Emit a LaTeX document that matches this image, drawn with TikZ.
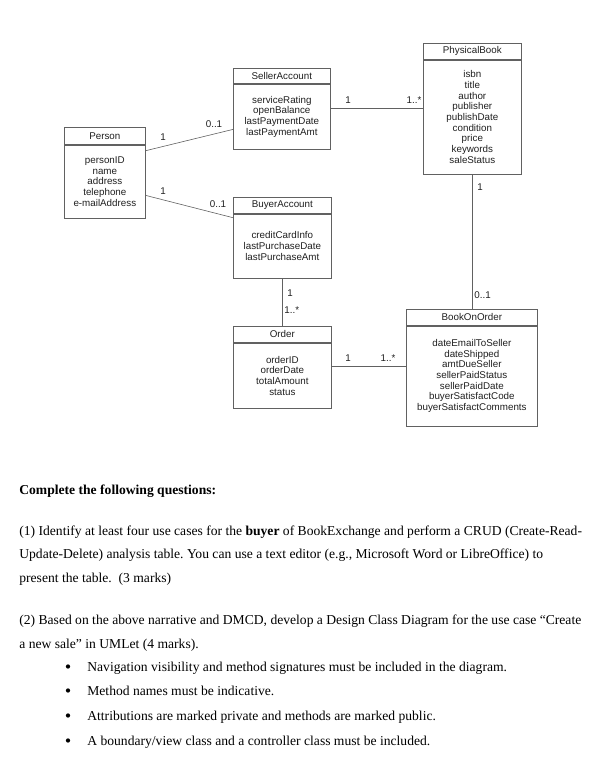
\documentclass[tikz,border=0pt]{standalone}
\usepackage{fontspec}
\setmainfont{Liberation Serif}
\setsansfont{Liberation Sans}
\definecolor{umlline}{gray}{0.38}
\definecolor{umltext}{gray}{0.12}
\newcommand{\umlfont}{\sffamily\fontsize{9.8}{10.7}\selectfont}
\newcommand{\qfont}{\fontsize{13.6}{15}\selectfont\frenchspacing}
\begin{document}
\begin{tikzpicture}[x=1pt, y=-1pt, line width=0.7pt,
  head/.style={draw=umlline, anchor=north west, inner sep=0pt, font=\umlfont, text=umltext},
  body/.style={draw=umlline, anchor=north west, inner sep=0pt, align=center, font=\umlfont, text=umltext},
  mult/.style={font=\umlfont, text=umltext, inner sep=0pt},
  assoc/.style={draw=umlline, line width=0.6pt},
  qline/.style={anchor=base west, inner sep=0pt, font=\qfont},
  bul/.style={circle, fill=black, inner sep=0pt, minimum size=4.3pt}]
  \useasboundingbox (0,0) rectangle (606,768);
  % classes
  \node[head, minimum width=81pt, minimum height=17pt] (phead) at (64,127) {Person};
  \node[body, minimum width=81pt, minimum height=73pt] (pbody) at (phead.south west)
    {personID\\name\\address\\telephone\\e-mailAddress};
  \node[head, minimum width=97pt, minimum height=15pt] (shead) at (233,68) {SellerAccount};
  \node[body, minimum width=97pt, minimum height=65pt] (sbody) at (shead.south west)
    {serviceRating\\openBalance\\lastPaymentDate\\lastPaymentAmt};
  \node[head, minimum width=98pt, minimum height=16pt] (bhead) at (233,197) {BuyerAccount};
  \node[body, minimum width=98pt, minimum height=64pt] (bbody) at (bhead.south west)
    {creditCardInfo\\lastPurchaseDate\\lastPurchaseAmt};
  \node[head, minimum width=98pt, minimum height=16pt] (ohead) at (233,326) {Order};
  \node[body, minimum width=98pt, minimum height=65pt] (obody) at (ohead.south west)
    {orderID\\orderDate\\totalAmount\\status};
  \node[head, minimum width=98pt, minimum height=16pt] (khead) at (423,43) {PhysicalBook};
  \node[body, minimum width=98pt, minimum height=114pt] (kbody) at (khead.south west)
    {isbn\\title\\author\\publisher\\publishDate\\condition\\price\\keywords\\saleStatus};
  \node[head, minimum width=131pt, minimum height=16pt] (bohead) at (406,309) {BookOnOrder};
  \node[body, minimum width=131pt, minimum height=100pt] (bobody) at (bohead.south west)
    {dateEmailToSeller\\dateShipped\\amtDueSeller\\sellerPaidStatus\\sellerPaidDate\\buyerSatisfactCode\\buyerSatisfactComments};
  % associations
  \draw[assoc] ([yshift=-6pt]pbody.north east) -- ([yshift=20pt]sbody.south west);
  \draw[assoc] ([yshift=23pt]pbody.south east) -- ([yshift=-4pt]bhead.south west);
  \coordinate (sk) at ([yshift=-25pt]sbody.north east);
  \draw[assoc] (sk) -- (sk -| kbody.west);
  \draw[assoc] (kbody.south) -- (kbody.south |- bohead.north);
  \draw[assoc] (bbody.south) -- (ohead.north);
  \coordinate (ob) at ([yshift=-24pt]obody.north east);
  \draw[assoc] (ob) -- (ob -| bobody.west);
  % multiplicities
  \node[mult] (m1) at (163,137) {1};
  \node[mult] (m2) at (214,124) {0..1};
  \node[mult] (m3) at (163,191) {1};
  \node[mult] (m4) at (218,204) {0..1};
  \node[mult] (m5) at (348,100) {1};
  \node[mult] (m6) at (414,100) {1..*};
  \node[mult] (m7) at (480,187) {1};
  \node[mult, anchor=west] (m8) at (474,295) {0..1};
  \node[mult] (m9) at (290,293) {1};
  \node[mult, anchor=west] (m10) at (284,310) {1..*};
  \node[mult] (m11) at (348,358) {1};
  \node[mult] (m12) at (388,358) {1..*};
  % questions
  \node[qline] (q0) at (19,494) {\textbf{Complete the following questions:}};
  \node[qline] (q1) at (19,535) {(1) Identify at least four use cases for the \textbf{buyer} of BookExchange and perform a CRUD (Create-Read-};
  \node[qline] (q2) at (19,558) {Update-Delete) analysis table. You can use a text editor (e.g., Microsoft Word or LibreOffice) to};
  \node[qline] (q3) at (19,582) {present the table.\ \ (3 marks)};
  \node[qline] (q4) at (19,624) {(2) Based on the above narrative and DMCD, develop a Design Class Diagram for the use case “Create};
  \node[qline] (q5) at (19,648) {a new sale” in UMLet (4 marks).};
  \foreach \yy/\txt [count=\i] in {671/{Navigation visibility and method signatures must be included in the diagram.},
      695/{Method names must be indicative.},
      720/{Attributions are marked private and methods are marked public.},
      745/{A boundary/view class and a controller class must be included.}} {
    \node[qline] (b\i) at (87,\yy) {\txt};
    \node[bul] (d\i) at (68,\yy-4.5) {};
  }
\end{tikzpicture}
\end{document}
